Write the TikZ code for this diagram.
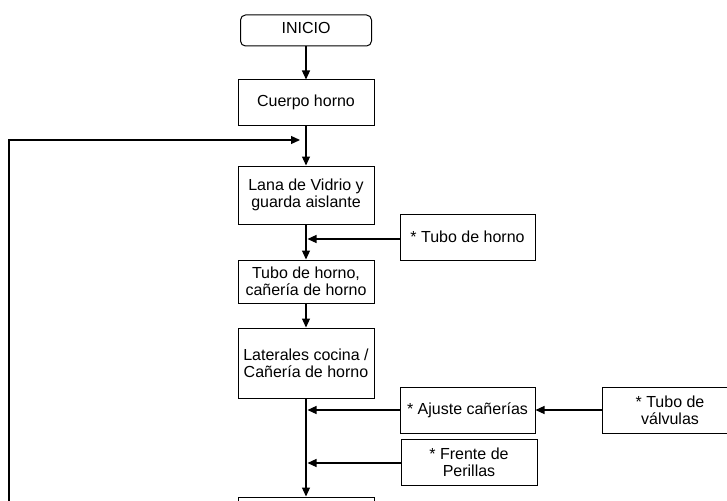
\documentclass[tikz,border=0pt]{standalone}
\usepackage{fontspec}
\setmainfont{Liberation Sans}
\usetikzlibrary{arrows.meta}
\begin{document}
\begin{tikzpicture}[x=1pt,y=-1pt,
  box/.style={draw,line width=1pt,minimum width=136pt,align=center,inner sep=0pt,font=\fontsize{16}{17}\selectfont},
  arr/.style={line width=1.2pt,-{Triangle[length=9pt,width=8pt]}},
  ln/.style={line width=1.2pt}]
\useasboundingbox (0,0) rectangle (727,500);
\clip (0,0) rectangle (727,500);
\node[box,rounded corners=5pt,minimum width=131pt,minimum height=31pt] (inicio) at (306,30.5) {\raisebox{2.5pt}[\height][\depth]{INICIO}};
\node[box,minimum height=45pt] (cuerpo) at (306,102.5) {Cuerpo horno};
\node[box,minimum height=58pt] (lana) at (306,195) {Lana de Vidrio y\\guarda aislante};
\node[box,minimum width=135pt,minimum height=46pt] (tuboh) at (467.5,237) {* Tubo de horno};
\node[box,minimum height=43pt] (tubocan) at (306,281.5) {Tubo de horno,\\cañería de horno};
\node[box,minimum height=70pt] (lat) at (306,363) {Laterales cocina /\\Cañería de horno};
\node[box,minimum width=135pt,minimum height=46pt] (ajuste) at (467.5,410) {* Ajuste cañerías};
\node[box,minimum height=46pt] (valv) at (670,410) {* Tubo de\\válvulas};
\node[box,minimum height=46pt] (frente) at (469,462) {* Frente de\\Perillas};
\node[box,minimum height=46pt] (bottom) at (306,520) {};
% junction coordinates
\coordinate (fbstart) at (9,520);
\coordinate (fbtip) at (300,140);
\coordinate (j1) at (307.5,239);
\coordinate (j2) at (307.5,410);
\coordinate (j3) at (307.5,463);
% connectors
\draw[arr] (inicio) -- (cuerpo);
\draw[arr] (cuerpo) -- (lana);
\draw[arr] (lana) -- (tubocan);
\draw[arr] (tubocan) -- (lat);
\draw[arr] (lat) -- (bottom);
\draw[arr] (fbstart) |- (fbtip);
\draw[arr] (tuboh.west |- j1) -- (j1);
\draw[arr] (ajuste.west) -- (j2);
\draw[arr] (frente.west |- j3) -- (j3);
\draw[arr] (valv.west) -- (ajuste.east);
\end{tikzpicture}
\end{document}
